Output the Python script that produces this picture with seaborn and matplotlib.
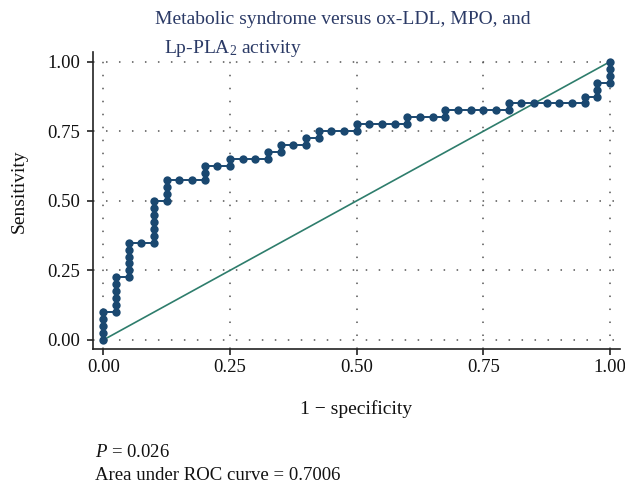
import matplotlib
matplotlib.use("Agg")
import matplotlib.pyplot as plt
import seaborn as sns
import pandas as pd

# 1 - specificity and sensitivity of the ROC curve
one_minus_spec = [0, 0, 0, 0, 0,
                  0.025, 0.025, 0.025, 0.025, 0.025, 0.025,
                  0.05, 0.05, 0.05, 0.05, 0.05, 0.05,
                  0.075,
                  0.1, 0.1, 0.1, 0.1, 0.1, 0.1, 0.1,
                  0.125, 0.125, 0.125, 0.125,
                  0.15, 0.175,
                  0.2, 0.2, 0.2,
                  0.225,
                  0.25, 0.25,
                  0.275, 0.3,
                  0.325, 0.325,
                  0.35, 0.35,
                  0.375,
                  0.4, 0.4,
                  0.425, 0.425,
                  0.45, 0.475,
                  0.5, 0.5,
                  0.525, 0.55, 0.575,
                  0.6, 0.6,
                  0.625, 0.65,
                  0.675, 0.675,
                  0.7, 0.725, 0.75, 0.775,
                  0.8, 0.8,
                  0.825, 0.85, 0.875, 0.9, 0.925,
                  0.95, 0.95,
                  0.975, 0.975, 0.975,
                  1.0, 1.0, 1.0, 1.0]
sensitivity = [0, 0.025, 0.05, 0.075, 0.1,
               0.1, 0.125, 0.15, 0.175, 0.2, 0.225,
               0.225, 0.25, 0.275, 0.3, 0.325, 0.35,
               0.35,
               0.35, 0.375, 0.4, 0.425, 0.45, 0.475, 0.5,
               0.5, 0.525, 0.55, 0.575,
               0.575, 0.575,
               0.575, 0.6, 0.625,
               0.625,
               0.625, 0.65,
               0.65, 0.65,
               0.65, 0.675,
               0.675, 0.7,
               0.7,
               0.7, 0.725,
               0.725, 0.75,
               0.75, 0.75,
               0.75, 0.775,
               0.775, 0.775, 0.775,
               0.775, 0.8,
               0.8, 0.8,
               0.8, 0.825,
               0.825, 0.825, 0.825, 0.825,
               0.825, 0.85,
               0.85, 0.85, 0.85, 0.85, 0.85,
               0.85, 0.875,
               0.875, 0.9, 0.925,
               0.925, 0.95, 0.975, 1.0]
ref_x = [0, 1]
ref_y = [0, 1]
ticks = [0, 0.25, 0.5, 0.75, 1.0]
tick_labels = ["0.00", "0.25", "0.50", "0.75", "1.00"]

title_line1 = "Metabolic syndrome versus ox-LDL, MPO, and"
title_line2 = r"Lp-PLA$_2$ activity"
note1 = r"$P$ = 0.026"
note2 = "Area under ROC curve = 0.7006"

sns.set_theme(style="white")
plt.rcParams["font.family"] = ["Liberation Serif", "DejaVu Serif"]
plt.rcParams["mathtext.fontset"] = "custom"
plt.rcParams["mathtext.rm"] = "Liberation Serif"
plt.rcParams["mathtext.it"] = "Liberation Serif:italic"

df = pd.DataFrame({"fpr": one_minus_spec, "tpr": sensitivity})
ref = pd.DataFrame({"x": ref_x, "y": ref_y})

fig = plt.figure(figsize=(6.25, 4.91), dpi=100)
ax = fig.add_axes([0.149, 0.2886, 0.843, 0.606])

for t in ticks:
    ax.axhline(t, color="#555555", lw=1.1, ls=(0, (1, 7.5)), zorder=0)
    ax.axvline(t, color="#555555", lw=1.1, ls=(0, (1, 7.5)), zorder=0)

sns.lineplot(data=ref, x="x", y="y", ax=ax, color="#2e7d6c", lw=1.2,
             estimator=None, sort=False, zorder=2)
sns.lineplot(data=df, x="fpr", y="tpr", ax=ax, color="#1a4870", lw=1.4,
             marker="o", markersize=6.0, markeredgewidth=0,
             estimator=None, sort=False, zorder=3)

ax.set_xlim(-0.02, 1.02)
ax.set_ylim(-0.0335, 1.036)
ax.set_xticks(ticks)
ax.set_xticklabels(tick_labels)
ax.set_yticks(ticks)
ax.set_yticklabels(tick_labels)
ax.tick_params(axis="both", direction="out", length=4, width=1.2,
               color="#222222", labelsize=13.5, labelcolor="#111111",
               bottom=True, left=True)
ax.tick_params(axis="x", pad=3)
ax.tick_params(axis="y", pad=5)
for s in ["top", "right"]:
    ax.spines[s].set_visible(False)
for s in ["left", "bottom"]:
    ax.spines[s].set_color("#222222")
    ax.spines[s].set_linewidth(1.2)

ax.set_xlabel("1 \u2212 specificity", fontsize=14, color="#111111")
ax.set_ylabel("Sensitivity", fontsize=14, color="#111111")
ax.xaxis.set_label_coords(0.5, -0.17)
ax.yaxis.set_label_coords(-0.124, 0.53)

fig.text(0.248, 0.977, title_line1, fontsize=14, color="#2b3a66",
         ha="left", va="top")
fig.text(0.262, 0.922, title_line2, fontsize=14, color="#2b3a66",
         ha="left", va="top")
fig.text(0.152, 0.079, note1, fontsize=13.5, color="#111111", ha="left", va="center")
fig.text(0.152, 0.031, note2, fontsize=13.5, color="#111111", ha="left", va="center")

fig.savefig("out.png", dpi=100)
